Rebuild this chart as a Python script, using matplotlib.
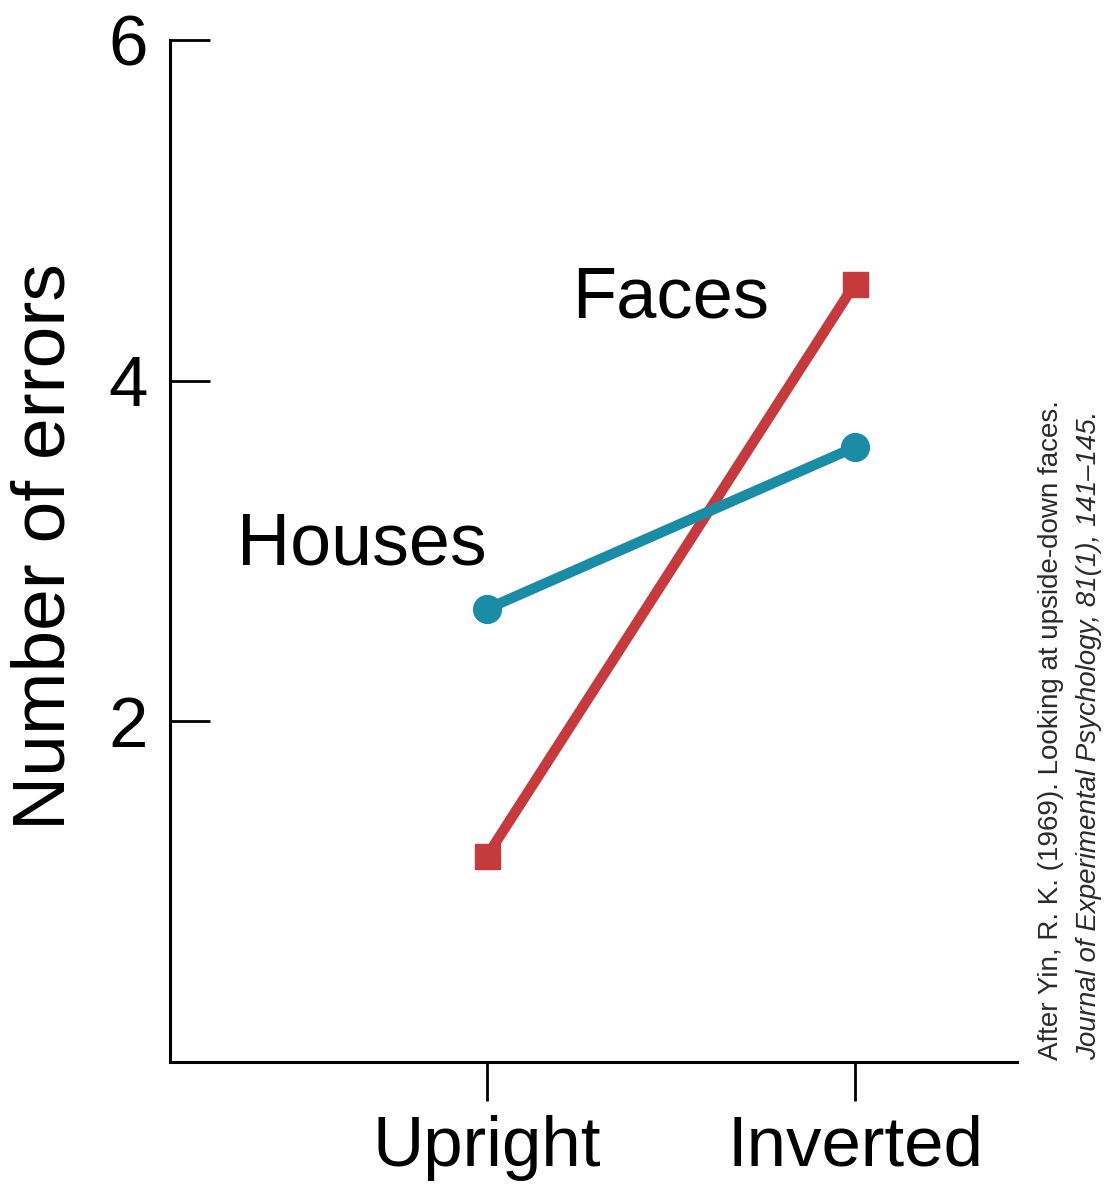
import numpy as np
import matplotlib as mpl
mpl.use('Agg')
import matplotlib.pyplot as plt

# data
conditions = ['Upright', 'Inverted']
faces = [1.21, 4.57]
houses = [2.66, 3.61]
yticks = [2, 4, 6]

red = '#C43A3D'
teal = '#1B8CA6'

params = {
    "font.family": ["Liberation Sans", "DejaVu Sans"],
    "axes.linewidth": 2.2,
    "xtick.major.width": 2.0,
    "ytick.major.width": 2.0,
}
mpl.rcParams.update(params)

fig = plt.figure(figsize=(11.08, 12), dpi=100)
ax = fig.add_axes([170/1108, 138/1200, 847/1108, 1022/1200])

x = np.arange(len(conditions))
ax.plot(x, faces, color=red, lw=7.5, marker='s', ms=18, solid_capstyle='butt')
ax.plot(x, houses, color=teal, lw=7.5, marker='o', ms=20)

ax.set_xlim(-0.8614, 1.440)
ax.set_ylim(0, 6)

ax.spines['top'].set_visible(False)
ax.spines['right'].set_visible(False)

ax.set_xticks(x)
ax.set_xticklabels(conditions, fontsize=51)
ax.set_yticks(yticks)
ax.set_yticklabels([str(t) for t in yticks], fontsize=51)
ax.tick_params(axis='x', direction='out', length=28, pad=10)
ax.tick_params(axis='y', direction='in', length=28.8, pad=16)

ax.text(0.232, 4.37, 'Faces', fontsize=52, ha='left', va='baseline')
ax.text(-0.678, 2.92, 'Houses', fontsize=53, ha='left', va='baseline')

fig.text(45/1108, 1 - 547/1200, 'Number of errors', fontsize=54, rotation=90,
         ha='center', va='center')

cite_font = ['Liberation Sans Narrow', 'Liberation Sans', 'DejaVu Sans']
fig.text(1058/1108, 140/1200, 'After Yin, R. K. (1969). Looking at upside-down faces.',
         fontsize=20, rotation=90, rotation_mode='anchor', ha='left', va='baseline',
         family=cite_font, color='#2a2a2a')
fig.text(1096/1108, 140/1200, 'Journal of Experimental Psychology, 81(1), 141\u2013145.',
         fontsize=20, rotation=90, rotation_mode='anchor', ha='left', va='baseline',
         family=cite_font, style='italic', color='#2a2a2a')

plt.savefig('out.png', dpi=100)
